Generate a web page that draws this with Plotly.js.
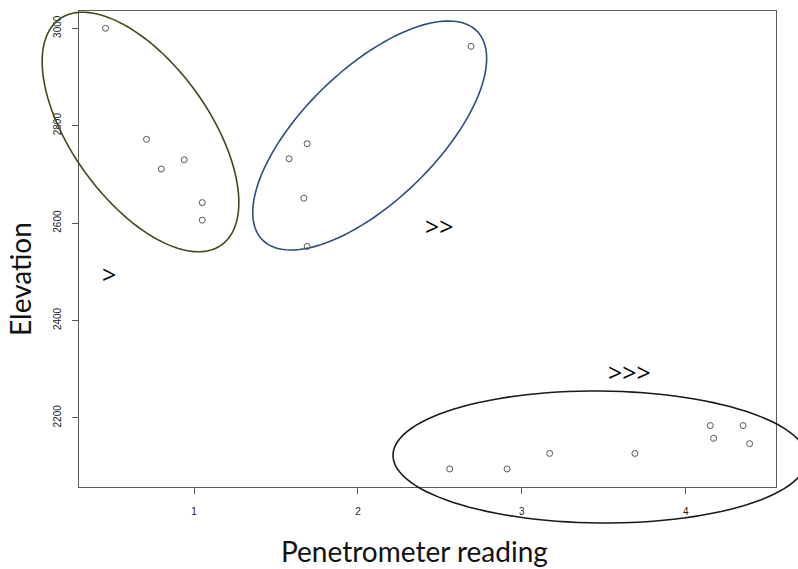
<!DOCTYPE html>
<html>
<head>
<meta charset="utf-8">
<script src="https://cdn.plot.ly/plotly-3.0.1.min.js"></script>
<style>html,body{margin:0;padding:0;background:#fff;}</style>
</head>
<body>
<div id="chart" style="width:798px;height:569px;"></div>
<script>
// Penetrometer reading (x) and Elevation (y), three groups
var group1X = [0.46, 0.71, 0.80, 0.94, 1.05, 1.05];
var group1Y = [3000, 2772, 2711, 2730, 2642, 2606];
var group2X = [2.69, 1.69, 1.58, 1.67, 1.69];
var group2Y = [2963, 2763, 2732, 2651, 2552];
var group3X = [2.56, 2.91, 3.17, 3.69, 4.15, 4.17, 4.35, 4.39];
var group3Y = [2095, 2095, 2127, 2127, 2184, 2158, 2184, 2147];
var groupLabels = [">", ">>", ">>>"];
var xTicks = [1, 2, 3, 4];
var yTicks = [2200, 2400, 2600, 2800, 3000];
var xTitle = 'Penetrometer reading';
var yTitle = 'Elevation';

var W = 798, H = 569;
var M = {l: 79, r: 22, t: 11, b: 82};
var PW = W - M.l - M.r, PH = H - M.t - M.b;

// hand-drawn style ellipses (figure pixel geometry)
var ellipses = [
  {cx: 140.5, cy: 132, a: 139, b: 68.5, ang: 54.3, color: '#3f4a1e'},
  {cx: 369.7, cy: 135.5, a: 149.7, b: 66.2, ang: -44.1, color: '#2e4d7e'},
  {cx: 600, cy: 457, a: 207, b: 66, ang: 0.5, color: '#1a1a1a'}
];
function ellipsePath(e) {
  var th = e.ang * Math.PI / 180, s = '';
  for (var i = 0; i <= 120; i++) {
    var t = 2 * Math.PI * i / 120;
    var X = e.cx + e.a * Math.cos(t) * Math.cos(th) - e.b * Math.sin(t) * Math.sin(th);
    var Y = e.cy + e.a * Math.cos(t) * Math.sin(th) + e.b * Math.sin(t) * Math.cos(th);
    var px = (X - M.l) / PW, py = (H - M.b - Y) / PH;
    s += (i === 0 ? 'M ' : ' L ') + px.toFixed(5) + ',' + py.toFixed(5);
  }
  return s + ' Z';
}
var shapes = ellipses.map(function (e) {
  return {type: 'path', xref: 'paper', yref: 'paper', path: ellipsePath(e),
          line: {color: e.color, width: 1.6}, fillcolor: 'rgba(0,0,0,0)', layer: 'above'};
});

var marker = {symbol: 'circle-open', size: 6, color: '#555555', line: {width: 1, color: '#555555'}};
var traces = [
  {x: group1X, y: group1Y, mode: 'markers', type: 'scatter', marker: marker, cliponaxis: false},
  {x: group2X, y: group2Y, mode: 'markers', type: 'scatter', marker: marker, cliponaxis: false},
  {x: group3X, y: group3Y, mode: 'markers', type: 'scatter', marker: marker, cliponaxis: false}
];

var labelPos = [[0.48, 2496], [2.495, 2593], [3.658, 2295]];
var annotations = groupLabels.map(function (t, i) {
  return {x: labelPos[i][0], y: labelPos[i][1], xref: 'x', yref: 'y', text: t, showarrow: false,
          font: {family: 'Open Sans, sans-serif', size: 25, color: '#000'}};
});
annotations.push({xref: 'paper', yref: 'paper', x: 0.482, y: -0.1345, text: xTitle, showarrow: false,
                  xanchor: 'center', yanchor: 'middle',
                  font: {family: 'Lato, sans-serif', size: 28, color: '#111'}});
annotations.push({xref: 'paper', yref: 'paper', x: -0.0847, y: 0.437, text: yTitle, showarrow: false,
                  textangle: -90, xanchor: 'center', yanchor: 'middle',
                  font: {family: 'Lato, sans-serif', size: 28, color: '#111'}});

var layout = {
  width: W, height: H,
  margin: M,
  paper_bgcolor: '#ffffff', plot_bgcolor: '#ffffff',
  showlegend: false,
  xaxis: {
    range: [0.298, 4.551], tickvals: xTicks, ticktext: xTicks.map(String),
    showgrid: false, zeroline: false, showline: true, mirror: true,
    linecolor: '#5a5a5a', linewidth: 1, ticks: 'outside', ticklen: 6, tickcolor: '#5a5a5a',
    ticklabelstandoff: 9,
    tickfont: {family: 'Liberation Sans, Arial, sans-serif', size: 10, color: '#222'},
    automargin: false
  },
  yaxis: {
    range: [2058, 3035.5], tickvals: yTicks, ticktext: yTicks.map(String),
    showgrid: false, zeroline: false, showline: true, mirror: true,
    linecolor: '#5a5a5a', linewidth: 1, ticks: 'outside', ticklen: 6, tickcolor: '#5a5a5a',
    tickangle: -90, ticklabelstandoff: 7,
    tickfont: {family: 'Liberation Sans, Arial, sans-serif', size: 10, color: '#222'},
    automargin: false
  },
  shapes: shapes,
  annotations: annotations
};

Plotly.newPlot('chart', traces, layout, {displayModeBar: false, staticPlot: true});
</script>
</body>
</html>
